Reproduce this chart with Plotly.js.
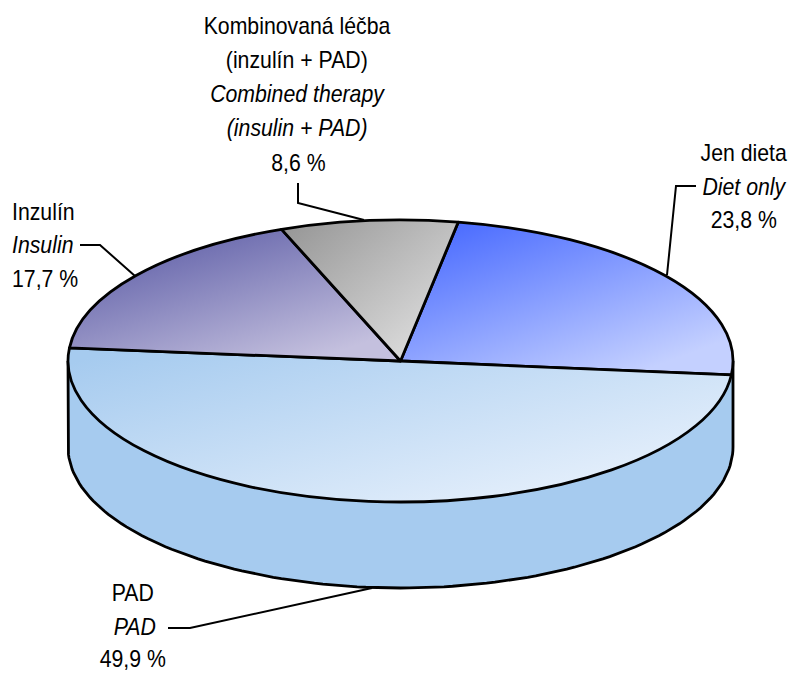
<!DOCTYPE html>
<html>
<head>
<meta charset="utf-8">
<script src="https://cdn.plot.ly/plotly-3.0.1.min.js"></script>
<style>html,body{margin:0;padding:0;background:#fff}#chart{width:792px;height:673px}</style>
</head>
<body>
<div id="chart"></div>
<script>
const categories = ['Jen dieta', 'PAD', 'Inzulín', 'Kombinovaná léčba'];
const shares = [23.8, 49.9, 17.7, 8.6];
const startAngle = 10;

const gradients = [
  {id:'gDiet', stops:['#4668FF','#C4D0FF'], from:[0.1,0.0], to:[0.82,0.9]},
  {id:'gPad',  stops:['#A6CBEF','#E8F1FC'], from:[0.0,0.1], to:[0.9,0.9]},
  {id:'gIns',  stops:['#5C5CA6','#C4C0DE'], from:[0.1,0.08], to:[0.78,0.95]},
  {id:'gComb', stops:['#969696','#D8D8D8'], from:[0.05,0.0], to:[0.85,0.78]}
];

const labelText = ['Kombinovaná léčba','(inzulín + PAD)','<i>Combined therapy</i>','<i>(insulin + PAD)</i>','8,6 %',
                   'Jen dieta','<i>Diet only</i>','23,8 %',
                   'Inzulín','<i>Insulin</i>','17,7 %',
                   'PAD','<i>PAD</i>','49,9 %'];
const labelX = [297,297,297,297,298, 744,744,744, 11,11,11, 133,135,133];
const labelY = [26,60,94,128,163, 153,187,220, 212,245,279, 593,627,659];
const labelAnchor = ['center','center','center','center','center','center','center','center','left','left','left','center','center','center'];

const leaders = [
  {x:[80,100,135], y:[245,245,276]},
  {x:[696,676,667], y:[186,186,275]},
  {x:[298,298,364], y:[183,203,220]},
  {x:[168,190,372], y:[628,628,588]}
];

const W = 792, H = 673, cx = 400.5, cy = 361, rx = 332.5, ry = 141, depth = 86;
const textSqueeze = 0.925;

// side wall of the disc
const wallX = [cx-rx], wallY = [cy];
for (let i = 0; i <= 120; i++) {
  const t = Math.PI * (1 - i/120);
  wallX.push(cx + rx*Math.cos(t));
  wallY.push(cy + depth + ry*Math.sin(t));
}
wallX.push(cx+rx); wallY.push(cy);

const traces = [
  {type:'scatter', mode:'lines', x:wallX, y:wallY, fill:'toself', fillcolor:'#A6CBEF',
   line:{color:'#000',width:2.8}, hoverinfo:'skip', showlegend:false}
];
leaders.forEach(l => traces.push({type:'scatter', mode:'lines', x:l.x, y:l.y,
   line:{color:'#000',width:2}, hoverinfo:'skip', showlegend:false}));
traces.push({type:'pie', labels:categories, values:shares, sort:false, direction:'clockwise',
   rotation:startAngle, textinfo:'none', showlegend:false, hoverinfo:'skip',
   marker:{colors:['#8FA4FF','#C8DDF5','#9490C4','#B8B8B8'], line:{color:'#000',width:2.8}},
   domain:{x:[(cx-rx)/W,(cx+rx)/W], y:[0.5-rx/H,0.5+rx/H]}});

const annotations = labelText.map((t,i)=>({text:t, x:labelX[i], y:labelY[i], xref:'x', yref:'y',
   xanchor:labelAnchor[i], yanchor:'middle', showarrow:false, borderpad:0,
   font:{family:'"Liberation Sans",Arial,sans-serif', size:23, color:'#000'}}));

const layout = {
  width:W, height:H, margin:{l:0,r:0,t:0,b:0,pad:0}, paper_bgcolor:'#fff', plot_bgcolor:'#fff',
  showlegend:false,
  xaxis:{range:[0,W], visible:false, fixedrange:true},
  yaxis:{range:[H,0], visible:false, fixedrange:true},
  annotations
};

Plotly.newPlot('chart', traces, layout, {displayModeBar:false, staticPlot:true}).then(gd => {
  const NS = 'http://www.w3.org/2000/svg';
  const svg = gd.querySelector('.main-svg');
  const defs = svg.querySelector('defs') || svg.insertBefore(document.createElementNS(NS,'defs'), svg.firstChild);
  gradients.forEach(g => {
    const lg = document.createElementNS(NS,'linearGradient');
    lg.setAttribute('id', g.id);
    lg.setAttribute('x1', g.from[0]); lg.setAttribute('y1', g.from[1]);
    lg.setAttribute('x2', g.to[0]);   lg.setAttribute('y2', g.to[1]);
    g.stops.forEach((c,i) => {
      const s = document.createElementNS(NS,'stop');
      s.setAttribute('offset', i); s.setAttribute('stop-color', c);
      lg.appendChild(s);
    });
    defs.appendChild(lg);
  });
  const layer = gd.querySelector('.pielayer');
  // tilt the pie: squash it around its centre into the disc's top ellipse
  layer.setAttribute('transform', `translate(0 ${cy}) scale(1 ${ry/rx}) translate(0 ${-H/2})`);
  layer.querySelectorAll('.slice path.surface').forEach((p,i) => {
    p.style.fill = `url(#${gradients[i].id})`;
    p.style.vectorEffect = 'non-scaling-stroke';
  });
  // narrow the label glyphs about each label's anchor
  gd.querySelectorAll('.annotation-text').forEach((el,i) => {
    const b = el.getBBox();
    const px = labelAnchor[i] === 'left' ? b.x : b.x + b.width/2;
    const prior = el.getAttribute('transform') || '';
    el.setAttribute('transform', `${prior} translate(${px} 0) scale(${textSqueeze} 1) translate(${-px} 0)`);
  });
});
</script>
</body>
</html>
